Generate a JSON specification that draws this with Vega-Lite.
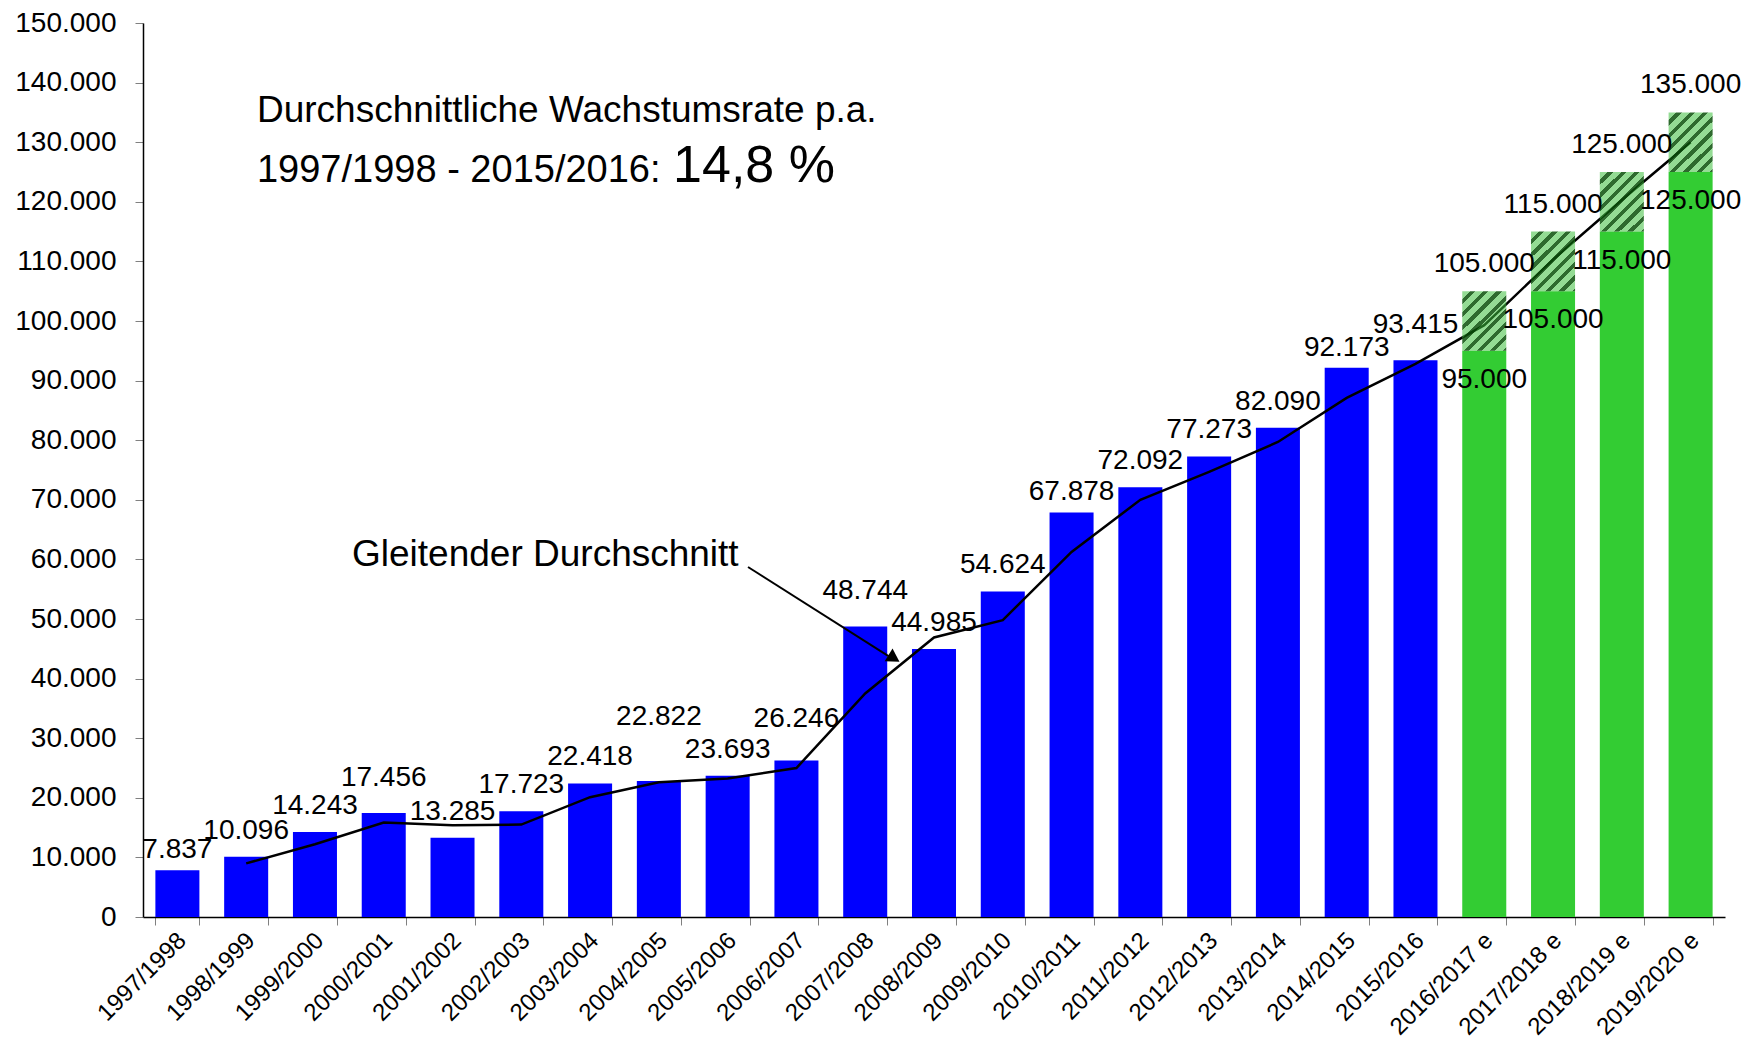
{
  "$schema": "https://vega.github.io/schema/vega-lite/v6.json",
  "width": 1582,
  "height": 894,
  "autosize": {"type": "none"},
  "padding": {"left": 143, "top": 23, "right": 25, "bottom": 125},
  "config": {
    "font": "Liberation Sans",
    "view": {"stroke": null},
    "locale": {"number": {"decimal": ",", "thousands": ".", "grouping": [3], "currency": ["", " €"]}},
    "axis": {"grid": false}
  },
  "resolve": {"scale": {"x": "independent", "y": "independent"}},
  "layer": [
    {
      "data": {
        "values": [
          {"period": "1997/1998", "type": "ist", "value": 7837, "high": null, "avg": null},
          {"period": "1998/1999", "type": "ist", "value": 10096, "high": null, "avg": 9000},
          {"period": "1999/2000", "type": "ist", "value": 14243, "high": null, "avg": 12200},
          {"period": "2000/2001", "type": "ist", "value": 17456, "high": null, "avg": 15850},
          {"period": "2001/2002", "type": "ist", "value": 13285, "high": null, "avg": 15400},
          {"period": "2002/2003", "type": "ist", "value": 17723, "high": null, "avg": 15500},
          {"period": "2003/2004", "type": "ist", "value": 22418, "high": null, "avg": 20100},
          {"period": "2004/2005", "type": "ist", "value": 22822, "high": null, "avg": 22600},
          {"period": "2005/2006", "type": "ist", "value": 23693, "high": null, "avg": 23250},
          {"period": "2006/2007", "type": "ist", "value": 26246, "high": null, "avg": 25000},
          {"period": "2007/2008", "type": "ist", "value": 48744, "high": null, "avg": 37500},
          {"period": "2008/2009", "type": "ist", "value": 44985, "high": null, "avg": 46900},
          {"period": "2009/2010", "type": "ist", "value": 54624, "high": null, "avg": 49800},
          {"period": "2010/2011", "type": "ist", "value": 67878, "high": null, "avg": 61250},
          {"period": "2011/2012", "type": "ist", "value": 72092, "high": null, "avg": 70000},
          {"period": "2012/2013", "type": "ist", "value": 77273, "high": null, "avg": 74700},
          {"period": "2013/2014", "type": "ist", "value": 82090, "high": null, "avg": 79700},
          {"period": "2014/2015", "type": "ist", "value": 92173, "high": null, "avg": 87100},
          {"period": "2015/2016", "type": "ist", "value": 93415, "high": null, "avg": 92800},
          {"period": "2016/2017 e", "type": "prognose", "value": 95000, "high": 105000, "avg": 99300},
          {"period": "2017/2018 e", "type": "prognose", "value": 105000, "high": 115000, "avg": 110300},
          {"period": "2018/2019 e", "type": "prognose", "value": 115000, "high": 125000, "avg": 120300},
          {"period": "2019/2020 e", "type": "prognose", "value": 125000, "high": 135000, "avg": 130000}
        ]
      },
      "encoding": {
        "x": {
          "field": "period",
          "type": "nominal",
          "sort": null,
          "scale": {
            "domain": ["1997/1998", "1998/1999", "1999/2000", "2000/2001", "2001/2002", "2002/2003", "2003/2004", "2004/2005", "2005/2006", "2006/2007", "2007/2008", "2008/2009", "2009/2010", "2010/2011", "2011/2012", "2012/2013", "2013/2014", "2014/2015", "2015/2016", "2016/2017 e", "2017/2018 e", "2018/2019 e", "2019/2020 e"],
            "paddingInner": 0.36,
            "paddingOuter": 0.18
          },
          "axis": {
            "title": null,
            "labelAngle": -45,
            "labelAlign": "right",
            "labelBaseline": "top",
            "labelFontSize": 24,
            "labelColor": "black",
            "labelPadding": 3,
            "labelOffset": -4,
            "tickBand": "extent",
            "tickColor": "#808080",
            "tickSize": 8,
            "domainColor": "black",
            "domainWidth": 1.5
          }
        }
      },
      "layer": [
        {
          "mark": {"type": "bar"},
          "encoding": {
            "y": {
              "field": "value",
              "type": "quantitative",
              "scale": {"domain": [0, 150000], "nice": false},
              "axis": {
                "title": null,
                "values": [0, 10000, 20000, 30000, 40000, 50000, 60000, 70000, 80000, 90000, 100000, 110000, 120000, 130000, 140000, 150000],
                "format": ",d",
                "labelFontSize": 28,
                "labelColor": "black",
                "labelPadding": 19,
                "tickColor": "#808080",
                "tickSize": 8,
                "domainColor": "black",
                "domainWidth": 1.5
              }
            },
            "color": {
              "field": "type",
              "type": "nominal",
              "scale": {"domain": ["ist", "prognose"], "range": ["#0000ff", "#33cc33"]},
              "legend": null
            }
          }
        },
        {
          "transform": [{"filter": "isValid(datum.avg)"}],
          "mark": {"type": "line", "color": "black", "strokeWidth": 2.5},
          "encoding": {
            "y": {"field": "avg", "type": "quantitative", "axis": {"title": null}}
          }
        },
        {
          "transform": [{"filter": "isValid(datum.high)"}],
          "mark": {
            "type": "bar",
            "fill": {
              "gradient": "linear",
              "x1": 0, "y1": 0, "x2": 0.843, "y2": 1.15,
              "stops": [
                {"offset": 0, "color": "rgba(60,190,60,0.55)"},
                {"offset": 0.075, "color": "rgba(60,190,60,0.55)"},
                {"offset": 0.075, "color": "rgba(10,80,10,0.85)"},
                {"offset": 0.125, "color": "rgba(10,80,10,0.85)"},
                {"offset": 0.125, "color": "rgba(60,190,60,0.55)"},
                {"offset": 0.2, "color": "rgba(60,190,60,0.55)"},
                {"offset": 0.2, "color": "rgba(10,80,10,0.85)"},
                {"offset": 0.25, "color": "rgba(10,80,10,0.85)"},
                {"offset": 0.25, "color": "rgba(60,190,60,0.55)"},
                {"offset": 0.325, "color": "rgba(60,190,60,0.55)"},
                {"offset": 0.325, "color": "rgba(10,80,10,0.85)"},
                {"offset": 0.375, "color": "rgba(10,80,10,0.85)"},
                {"offset": 0.375, "color": "rgba(60,190,60,0.55)"},
                {"offset": 0.45, "color": "rgba(60,190,60,0.55)"},
                {"offset": 0.45, "color": "rgba(10,80,10,0.85)"},
                {"offset": 0.5, "color": "rgba(10,80,10,0.85)"},
                {"offset": 0.5, "color": "rgba(60,190,60,0.55)"},
                {"offset": 0.575, "color": "rgba(60,190,60,0.55)"},
                {"offset": 0.575, "color": "rgba(10,80,10,0.85)"},
                {"offset": 0.625, "color": "rgba(10,80,10,0.85)"},
                {"offset": 0.625, "color": "rgba(60,190,60,0.55)"},
                {"offset": 0.7, "color": "rgba(60,190,60,0.55)"},
                {"offset": 0.7, "color": "rgba(10,80,10,0.85)"},
                {"offset": 0.75, "color": "rgba(10,80,10,0.85)"},
                {"offset": 0.75, "color": "rgba(60,190,60,0.55)"},
                {"offset": 0.825, "color": "rgba(60,190,60,0.55)"},
                {"offset": 0.825, "color": "rgba(10,80,10,0.85)"},
                {"offset": 0.875, "color": "rgba(10,80,10,0.85)"},
                {"offset": 0.875, "color": "rgba(60,190,60,0.55)"},
                {"offset": 0.95, "color": "rgba(60,190,60,0.55)"},
                {"offset": 0.95, "color": "rgba(10,80,10,0.85)"},
                {"offset": 1, "color": "rgba(10,80,10,0.85)"}
              ]
            }
          },
          "encoding": {
            "y": {"field": "value", "type": "quantitative", "axis": {"title": null}},
            "y2": {"field": "high"}
          }
        },
        {
          "transform": [{"filter": "datum.type === 'ist' && indexof(['1997/1998','2010/2011','2014/2015','2000/2001','2007/2008','2015/2016','2006/2007','2004/2005'], datum.period) < 0"}],
          "mark": {"type": "text", "fontSize": 28, "align": "center", "baseline": "alphabetic", "dy": -18, "color": "black"},
          "encoding": {
            "y": {"field": "value", "type": "quantitative", "axis": {"title": null}},
            "text": {"field": "value", "type": "quantitative", "format": ",d"}
          }
        },
        {
          "transform": [{"filter": "indexof(['1997/1998','2010/2011','2014/2015'], datum.period) >= 0"}],
          "mark": {"type": "text", "fontSize": 28, "align": "center", "baseline": "alphabetic", "dy": -12, "color": "black"},
          "encoding": {
            "y": {"field": "value", "type": "quantitative", "axis": {"title": null}},
            "text": {"field": "value", "type": "quantitative", "format": ",d"}
          }
        },
        {
          "transform": [{"filter": "indexof(['2000/2001','2007/2008','2015/2016'], datum.period) >= 0"}],
          "mark": {"type": "text", "fontSize": 28, "align": "center", "baseline": "alphabetic", "dy": -27, "color": "black"},
          "encoding": {
            "y": {"field": "value", "type": "quantitative", "axis": {"title": null}},
            "text": {"field": "value", "type": "quantitative", "format": ",d"}
          }
        },
        {
          "transform": [{"filter": "datum.period === '2006/2007'"}],
          "mark": {"type": "text", "fontSize": 28, "align": "center", "baseline": "alphabetic", "dy": -34, "color": "black"},
          "encoding": {
            "y": {"field": "value", "type": "quantitative", "axis": {"title": null}},
            "text": {"field": "value", "type": "quantitative", "format": ",d"}
          }
        },
        {
          "transform": [{"filter": "datum.period === '2004/2005'"}],
          "mark": {"type": "text", "fontSize": 28, "align": "center", "baseline": "alphabetic", "dy": -56, "color": "black"},
          "encoding": {
            "y": {"field": "value", "type": "quantitative", "axis": {"title": null}},
            "text": {"field": "value", "type": "quantitative", "format": ",d"}
          }
        },
        {
          "transform": [{"filter": "datum.type === 'prognose'"}],
          "mark": {"type": "text", "fontSize": 28, "align": "center", "baseline": "alphabetic", "dy": 37, "color": "black"},
          "encoding": {
            "y": {"field": "value", "type": "quantitative", "axis": {"title": null}},
            "text": {"field": "value", "type": "quantitative", "format": ",d"}
          }
        },
        {
          "transform": [{"filter": "datum.type === 'prognose'"}],
          "mark": {"type": "text", "fontSize": 28, "align": "center", "baseline": "alphabetic", "dy": -19, "color": "black"},
          "encoding": {
            "y": {"field": "high", "type": "quantitative", "axis": {"title": null}},
            "text": {"field": "high", "type": "quantitative", "format": ",d"}
          }
        }
      ]
    },
    {
      "layer": [
        {
          "data": {"values": [{"ix": 1.657, "val": 133400, "label": "Durchschnittliche Wachstumsrate p.a."}]},
          "mark": {"type": "text", "fontSize": 37, "align": "left", "baseline": "alphabetic", "color": "black"},
          "encoding": {
            "x": {"field": "ix", "type": "quantitative", "scale": {"domain": [0, 23], "nice": false, "zero": false}, "axis": null},
            "y": {"field": "val", "type": "quantitative", "scale": {"domain": [0, 150000], "nice": false}, "axis": null},
            "text": {"field": "label"}
          }
        },
        {
          "data": {"values": [{"ix": 1.657, "val": 123400, "label": "1997/1998 - 2015/2016:"}]},
          "mark": {"type": "text", "fontSize": 38, "align": "left", "baseline": "alphabetic", "color": "black"},
          "encoding": {
            "x": {"field": "ix", "type": "quantitative", "scale": {"domain": [0, 23], "nice": false, "zero": false}, "axis": null},
            "y": {"field": "val", "type": "quantitative", "scale": {"domain": [0, 150000], "nice": false}, "axis": null},
            "text": {"field": "label"}
          }
        },
        {
          "data": {"values": [{"ix": 7.706, "val": 123400, "label": "14,8 %"}]},
          "mark": {"type": "text", "fontSize": 52, "align": "left", "baseline": "alphabetic", "color": "black"},
          "encoding": {
            "x": {"field": "ix", "type": "quantitative", "scale": {"domain": [0, 23], "nice": false, "zero": false}, "axis": null},
            "y": {"field": "val", "type": "quantitative", "scale": {"domain": [0, 150000], "nice": false}, "axis": null},
            "text": {"field": "label"}
          }
        },
        {
          "data": {"values": [{"ix": 3.039, "val": 58890, "label": "Gleitender Durchschnitt"}]},
          "mark": {"type": "text", "fontSize": 37, "align": "left", "baseline": "alphabetic", "color": "black"},
          "encoding": {
            "x": {"field": "ix", "type": "quantitative", "scale": {"domain": [0, 23], "nice": false, "zero": false}, "axis": null},
            "y": {"field": "val", "type": "quantitative", "scale": {"domain": [0, 150000], "nice": false}, "axis": null},
            "text": {"field": "label"}
          }
        },
        {
          "data": {"values": [{"ix": 8.796, "val": 58725, "ix2": 10.85, "val2": 43700}]},
          "mark": {"type": "rule", "color": "black", "strokeWidth": 2},
          "encoding": {
            "x": {"field": "ix", "type": "quantitative", "scale": {"domain": [0, 23], "nice": false, "zero": false}, "axis": null},
            "y": {"field": "val", "type": "quantitative", "scale": {"domain": [0, 150000], "nice": false}, "axis": null},
            "x2": {"field": "ix2"},
            "y2": {"field": "val2"}
          }
        },
        {
          "data": {"values": [{"ix": 10.919, "val": 43406}]},
          "mark": {"type": "point", "shape": "triangle-right", "angle": 32, "size": 220, "filled": true, "color": "black", "opacity": 1},
          "encoding": {
            "x": {"field": "ix", "type": "quantitative", "scale": {"domain": [0, 23], "nice": false, "zero": false}, "axis": null},
            "y": {"field": "val", "type": "quantitative", "scale": {"domain": [0, 150000], "nice": false}, "axis": null}
          }
        }
      ]
    }
  ]
}
